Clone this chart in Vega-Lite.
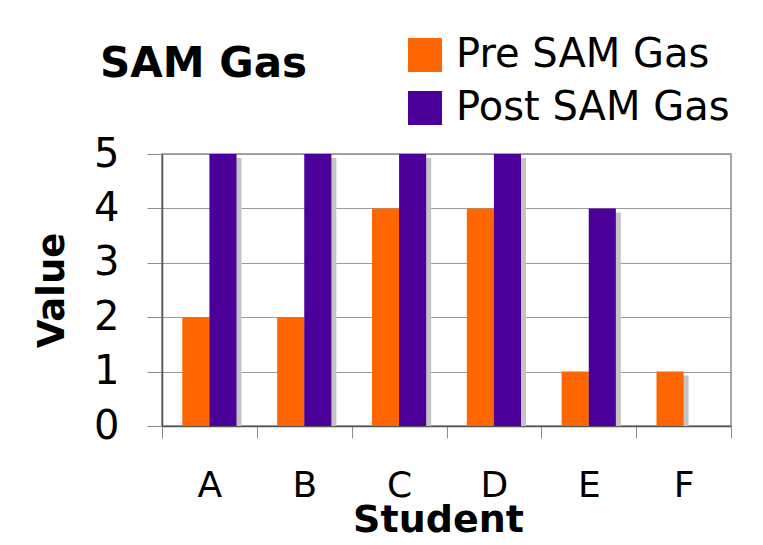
{
  "$schema": "https://vega.github.io/schema/vega-lite/v6.json",
  "autosize": "none",
  "width": 569,
  "height": 272,
  "padding": {"left": 162, "top": 154, "right": 32, "bottom": 119},
  "background": "white",
  "config": {
    "font": "DejaVu Sans",
    "view": {"stroke": "#8c8c8c", "strokeWidth": 1.5}
  },
  "title": {
    "text": "SAM Gas",
    "anchor": "start",
    "frame": "group",
    "fontSize": 42,
    "fontWeight": "bold",
    "color": "black",
    "dx": -62,
    "dy": 55
  },
  "data": {
    "values": [
      {"Student": "A", "Series": "Pre SAM Gas", "Value": 2},
      {"Student": "A", "Series": "Post SAM Gas", "Value": 5},
      {"Student": "B", "Series": "Pre SAM Gas", "Value": 2},
      {"Student": "B", "Series": "Post SAM Gas", "Value": 5},
      {"Student": "C", "Series": "Pre SAM Gas", "Value": 4},
      {"Student": "C", "Series": "Post SAM Gas", "Value": 5},
      {"Student": "D", "Series": "Pre SAM Gas", "Value": 4},
      {"Student": "D", "Series": "Post SAM Gas", "Value": 5},
      {"Student": "E", "Series": "Pre SAM Gas", "Value": 1},
      {"Student": "E", "Series": "Post SAM Gas", "Value": 4},
      {"Student": "F", "Series": "Pre SAM Gas", "Value": 1}
    ]
  },
  "encoding": {
    "x": {
      "field": "Student",
      "type": "nominal",
      "scale": {"paddingInner": 0, "paddingOuter": 0},
      "axis": {
        "title": "Student",
        "titleFontSize": 38,
        "titleFontWeight": "bold",
        "titleColor": "black",
        "titlePadding": -2,
        "titleX": 276,
        "labelAngle": 0,
        "labelFontSize": 36,
        "labelColor": "black",
        "labelPadding": 30,
        "tickBand": "extent",
        "tickSize": 12,
        "tickColor": "#8c8c8c",
        "domainColor": "#555555",
        "domainWidth": 1.5
      }
    },
    "y": {
      "field": "Value",
      "type": "quantitative",
      "scale": {"domain": [0, 5]},
      "axis": {
        "title": "Value",
        "titleFontSize": 37,
        "titleFontWeight": "bold",
        "titleColor": "black",
        "titlePadding": 22,
        "values": [0, 1, 2, 3, 4, 5],
        "labelFontSize": 40,
        "labelColor": "black",
        "labelPadding": 28,
        "tickSize": 15,
        "tickColor": "#8c8c8c",
        "domainColor": "#555555",
        "domainWidth": 1.5,
        "gridColor": "#9a9a9a",
        "gridWidth": 1
      }
    }
  },
  "resolve": {"scale": {"xOffset": "independent"}},
  "layer": [
    {
      "mark": {"type": "bar", "color": "#c4c4c4", "yOffset": 4, "clip": true},
      "encoding": {
        "xOffset": {
          "field": "Series",
          "type": "nominal",
          "sort": ["Pre SAM Gas", "Post SAM Gas"],
          "scale": {"paddingOuter": 0.75, "paddingInner": 0, "align": 0.623}
        }
      }
    },
    {
      "mark": {"type": "bar"},
      "encoding": {
        "xOffset": {
          "field": "Series",
          "type": "nominal",
          "sort": ["Pre SAM Gas", "Post SAM Gas"],
          "scale": {"paddingOuter": 0.75, "paddingInner": 0}
        },
        "color": {
          "field": "Series",
          "type": "nominal",
          "sort": ["Pre SAM Gas", "Post SAM Gas"],
          "scale": {"domain": ["Pre SAM Gas", "Post SAM Gas"], "range": ["#ff6600", "#4a0099"]},
          "legend": {
            "title": null,
            "orient": "none",
            "legendX": 243,
            "legendY": -119,
            "direction": "vertical",
            "symbolType": "square",
            "symbolSize": 1156,
            "symbolStrokeWidth": 0,
            "symbolOpacity": 1,
            "labelFontSize": 40,
            "labelColor": "black",
            "labelOffset": 11,
            "rowPadding": 13,
            "labelLimit": 400
          }
        }
      }
    }
  ]
}
